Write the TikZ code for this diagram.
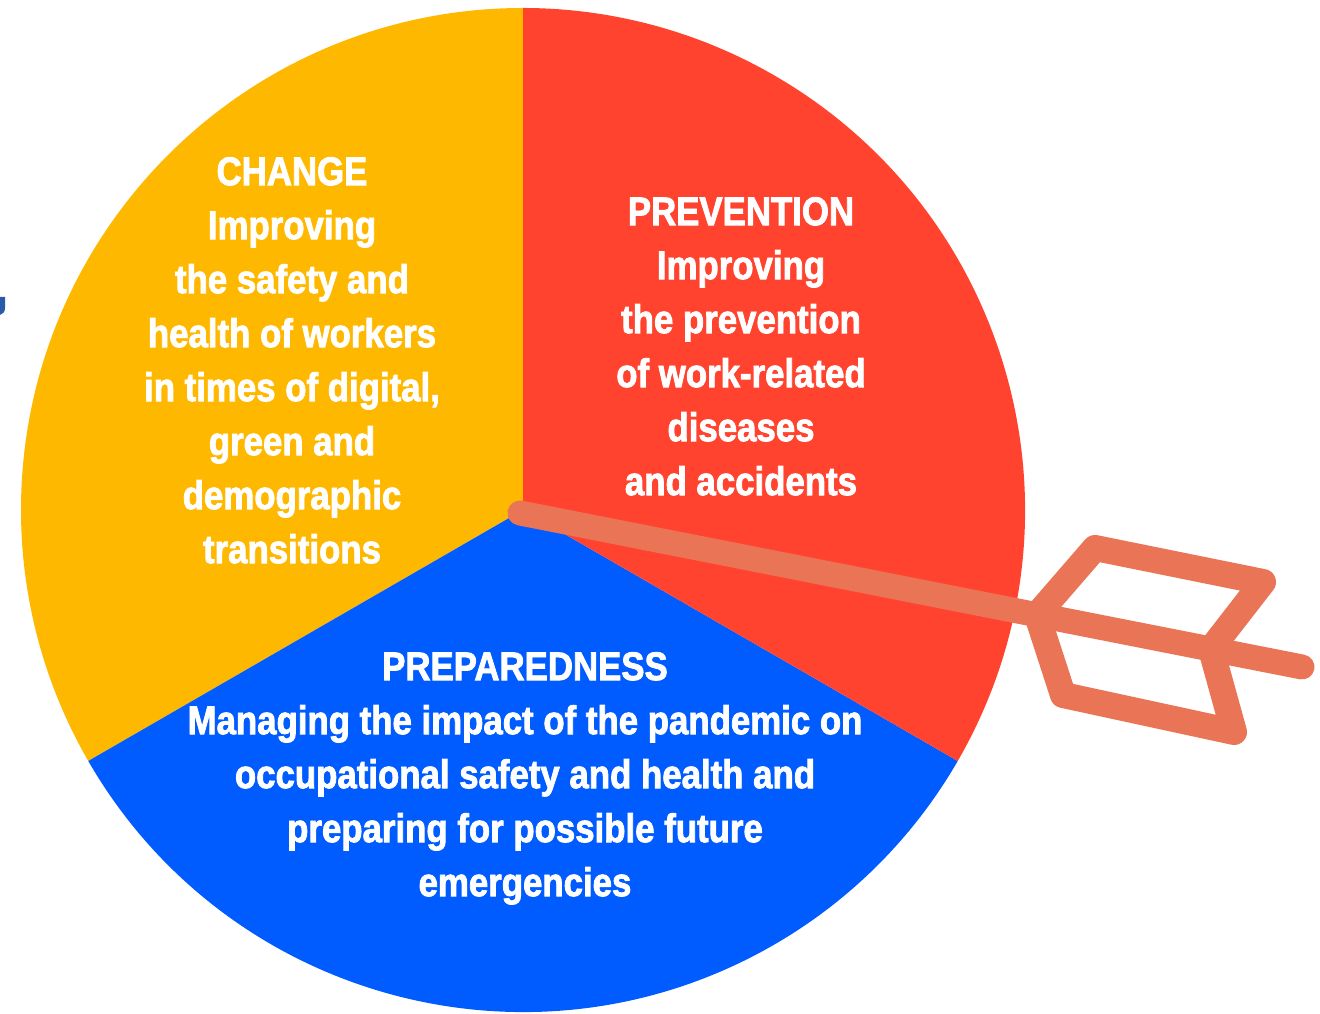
\documentclass[tikz,border=0pt]{standalone}
\usepackage{fontspec}
\newfontfamily\labfont{Liberation Sans}[FakeStretch=0.87,FakeBold=2]
\definecolor{pieorange}{HTML}{FFB800}
\definecolor{piered}{HTML}{FF432E}
\definecolor{pieblue}{HTML}{005CFF}
\definecolor{arrowc}{HTML}{EA7456}
\definecolor{markblue}{HTML}{2B5BA8}
\tikzset{
  lab/.style={text=white, inner sep=0pt, align=center, anchor=north,
    font=\labfont\bfseries\fontsize{40}{54}\selectfont},
  shaft/.style={draw=arrowc, line width=25pt, line cap=round},
  feather/.style={draw=arrowc, line width=26pt, line join=round, line cap=round}
}
\begin{document}
\begin{tikzpicture}[x=1pt,y=1pt]
\useasboundingbox (0,0) rectangle (1320,1014);
\coordinate (O) at (523,504);
\fill[pieorange] (O) -- ++(90:502) arc[start angle=90,end angle=210,radius=502] -- cycle;
\fill[pieblue] (O) -- ++(210:502) arc[start angle=210,end angle=330,radius=502] -- cycle;
\fill[piered] (O) -- ++(-30:502) arc[start angle=-30,end angle=90,radius=502] -- cycle;
% small blue mark at left edge
\fill[markblue] (0,717) -- (5,717) -- (5,706) .. controls (5,702) and (3,700) .. (0,699) -- cycle;
% labels
\node[lab] (change) at (292,857) {CHANGE\\Improving\\the safety and\\health of workers\\in times of digital,\\green and\\demographic\\transitions};
\node[lab] (prevention) at (741,817) {PREVENTION\\Improving\\the prevention\\of work-related\\diseases\\and accidents};
\node[lab] (preparedness) at (525,362) {PREPAREDNESS\\Managing the impact of the pandemic on\\occupational safety and health and\\preparing for possible future\\emergencies};
% arrow
\coordinate (S) at (520,501);
\coordinate (T) at (1302,347);
\coordinate (A) at (1037,399);
\coordinate (B) at (1211,365);
\coordinate (P1) at (1095,466);
\coordinate (P2) at (1263,432);
\coordinate (Q1) at (1063,319);
\coordinate (Q2) at (1234,282);
\draw[shaft] (S) -- (T);
\draw[feather] (A) -- (P1) -- (P2) -- (B);
\draw[feather] (A) -- (Q1) -- (Q2) -- (B);
\end{tikzpicture}
\end{document}
